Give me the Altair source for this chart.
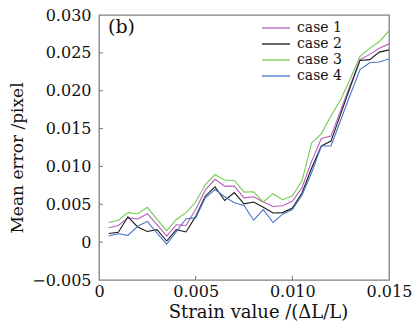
import altair as alt
import pandas as pd

strain = [0.0005, 0.0010, 0.0015, 0.0020, 0.0025, 0.0030, 0.0035, 0.0040, 0.0045, 0.0050,
          0.0055, 0.0060, 0.0065, 0.0070, 0.0075, 0.0080, 0.0085, 0.0090, 0.0095, 0.0100,
          0.0105, 0.0110, 0.0115, 0.0120, 0.0125, 0.0130, 0.0135, 0.0140, 0.0145, 0.0150]

# values in units of 0.001 pixel
case1 = [1.9, 2.2, 3.2, 3.05, 3.75, 2.3, 0.8, 2.3, 2.2, 4.3,
         6.9, 8.3, 7.4, 7.4, 5.85, 6.0, 5.3, 4.7, 4.8, 5.4,
         7.2, 10.7, 13.7, 14.0, 17.4, 20.8, 24.1, 24.8, 25.6, 26.2]
case2 = [1.15, 1.3, 3.35, 2.0, 1.4, 1.65, 0.15, 1.65, 1.35, 3.4,
         6.1, 7.3, 5.5, 6.55, 5.05, 5.3, 4.6, 3.85, 3.9, 4.5,
         6.5, 9.8, 12.7, 13.35, 16.9, 20.5, 24.0, 24.1, 25.1, 25.4]
case3 = [2.6, 2.9, 3.9, 3.75, 4.6, 3.0, 1.5, 3.0, 3.9, 5.3,
         7.6, 8.9, 8.2, 8.15, 6.6, 6.65, 5.3, 6.4, 5.6, 6.1,
         8.1, 13.1, 14.3, 16.7, 18.8, 21.6, 24.5, 25.6, 26.5, 27.9]
case4 = [0.8, 1.1, 0.9, 2.1, 2.75, 1.2, -0.25, 1.4, 3.1, 3.2,
         5.85, 6.95, 6.0, 5.2, 4.85, 2.9, 4.3, 2.6, 3.7, 4.3,
         6.2, 9.2, 12.7, 12.7, 16.1, 19.5, 22.8, 23.7, 23.8, 24.2]

series_names = ["case 1", "case 2", "case 3", "case 4"]
series_colors = ["#b85cc0", "#1a1a1a", "#72cc52", "#4a74c8"]
x_ticks = [0, 0.005, 0.010, 0.015]
y_ticks = [-0.005, 0, 0.005, 0.010, 0.015, 0.020, 0.025, 0.030]

rows = []
for name, vals in zip(series_names, [case1, case2, case3, case4]):
    for xv, yv in zip(strain, vals):
        rows.append({"strain": xv, "err": yv / 1000.0, "case": name})
df = pd.DataFrame(rows)
leg = pd.DataFrame({"case": series_names})

FONT = "DejaVu Serif"
W, H = 290, 265

xscale = alt.Scale(domain=[0, 0.015], nice=False, zero=False)
yscale = alt.Scale(domain=[-0.005, 0.030], nice=False, zero=False)
cscale = alt.Scale(domain=series_names, range=series_colors)
legy = alt.Scale(type="point", domain=series_names, range=[13, 61], padding=0)

xaxis = alt.Axis(values=x_ticks, title="Strain value /(ΔL/L)",
                 labelExpr="abs(datum.value) < 1e-9 ? '0' : format(datum.value, '.3f')",
                 tickSize=0, labelPadding=3, domain=False, grid=False,
                 labelFont=FONT, labelFontSize=16, labelColor="#111",
                 labelOverlap=False,
                 titleFont=FONT, titleFontSize=18, titleFontWeight="normal",
                 titleColor="#111", titlePadding=4, titleX=W / 2 + 14,
                 labelFlush=False)
yaxis = alt.Axis(values=y_ticks, title="Mean error /pixel",
                 labelExpr="abs(datum.value) < 1e-9 ? '0' : replace(format(datum.value, '.3f'), '-', '\u2212')",
                 tickSize=0, labelPadding=8, domain=False, grid=False,
                 labelFont=FONT, labelFontSize=16, labelColor="#111",
                 labelOverlap=False,
                 titleFont=FONT, titleFontSize=17, titleFontWeight="normal",
                 titleColor="#111", titlePadding=5, titleY=H / 2 + 10,
                 labelFlush=False)

lines = alt.Chart(df).mark_line(strokeWidth=1.1, clip=True).encode(
    x=alt.X("strain:Q", scale=xscale, axis=xaxis),
    y=alt.Y("err:Q", scale=yscale, axis=yaxis),
    color=alt.Color("case:N", scale=cscale, legend=None),
)

xt = alt.Chart(pd.DataFrame({"t": x_ticks[1:-1]})).mark_rule(color="#777", strokeWidth=1).encode(
    x=alt.X("t:Q", scale=xscale, axis=xaxis), y=alt.value(H), y2=alt.value(H - 4))
yt = alt.Chart(pd.DataFrame({"t": y_ticks[1:-1]})).mark_rule(color="#777", strokeWidth=1).encode(
    y=alt.Y("t:Q", scale=yscale, axis=yaxis), x=alt.value(0), x2=alt.value(4))

leg_lines = alt.Chart(leg).mark_rule(strokeWidth=1.3).encode(
    y=alt.Y("case:N", scale=legy, axis=None),
    x=alt.value(163), x2=alt.value(191),
    color=alt.Color("case:N", scale=cscale, legend=None),
)
leg_text = alt.Chart(leg).mark_text(align="left", baseline="middle", font=FONT,
                                     fontSize=14, color="#111").encode(
    y=alt.Y("case:N", scale=legy, axis=None),
    x=alt.value(198),
    text="case:N",
)

main = alt.layer(lines, xt, yt)
legend = alt.layer(leg_lines, leg_text)

chart = alt.layer(main, legend).resolve_scale(y="independent").properties(
    width=W, height=H,
    title=alt.TitleParams("(b)", anchor="start", orient="top", dx=9, dy=30, offset=0,
                          font=FONT, fontSize=19, fontWeight="normal", color="#111", frame="group"),
    autosize=alt.AutoSizeParams(type="none"),
    padding={"left": 99, "top": 15, "right": 29, "bottom": 48},
    background="white",
).configure_view(stroke="#808080", strokeWidth=1.3)

chart.save("out.html", embed_options={"renderer": "svg", "actions": False})
